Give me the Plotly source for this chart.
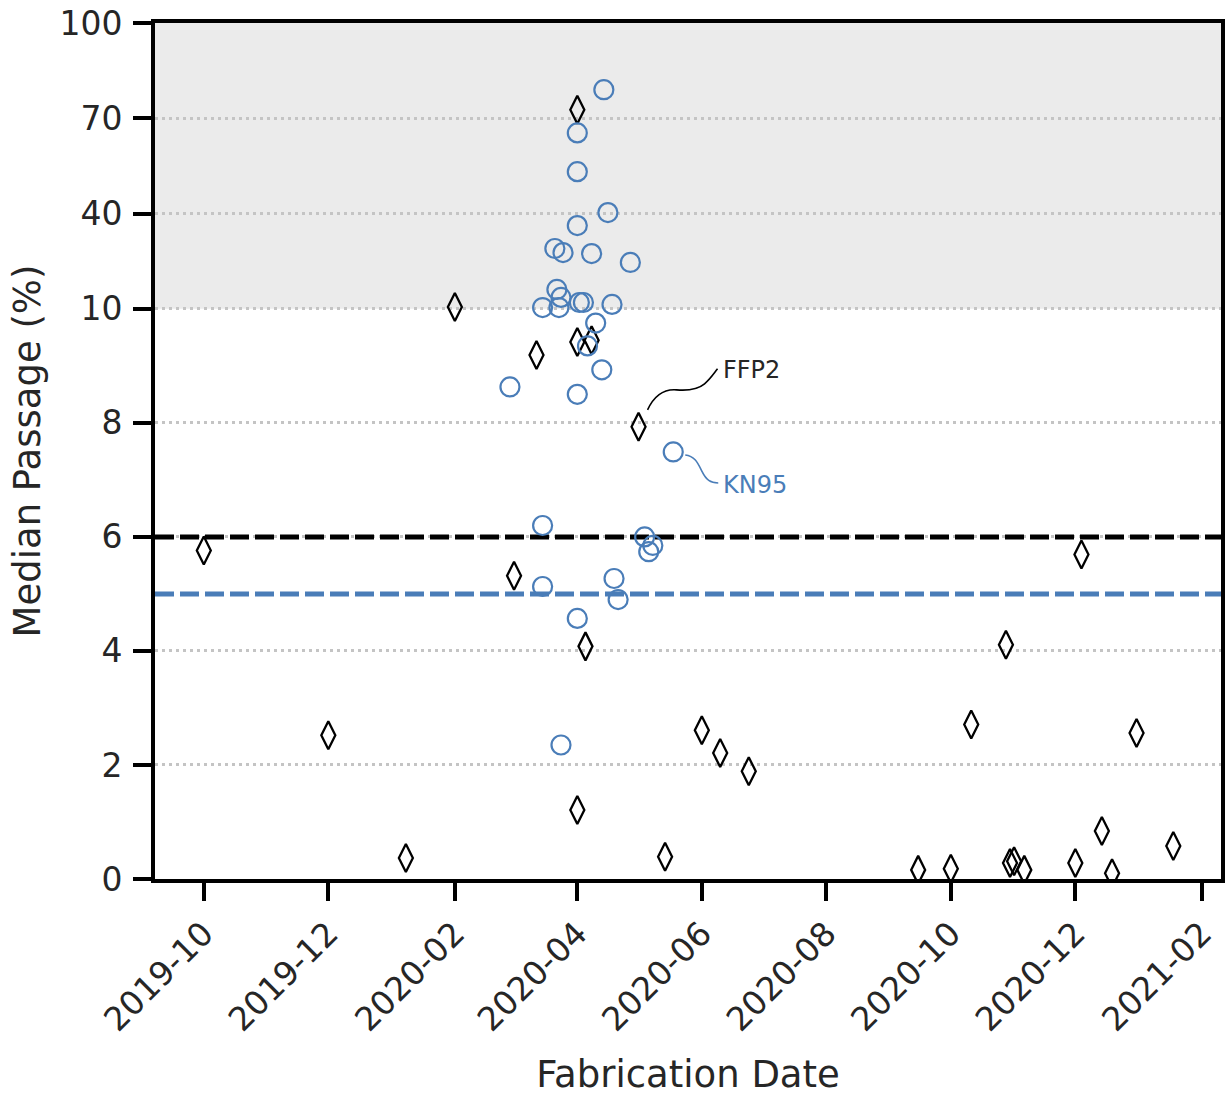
import plotly.graph_objects as go

# Median passage (%) by fabrication date, two respirator classes
ffp2_dates = [
    "2019-10-01", "2019-12-01", "2020-01-08", "2020-02-01", "2020-03-01",
    "2020-03-12", "2020-04-01", "2020-04-01", "2020-04-01", "2020-04-05",
    "2020-04-08", "2020-05-01", "2020-05-14", "2020-06-01", "2020-06-10",
    "2020-06-24", "2020-09-15", "2020-10-01", "2020-10-11", "2020-10-28",
    "2020-10-30", "2020-11-01", "2020-11-06", "2020-12-01", "2020-12-04",
    "2020-12-14", "2020-12-19", "2020-12-31", "2021-01-18",
]
ffp2_passage = [
    5.76, 2.52, 0.37, 10.6, 5.32,
    9.19, 72.7, 9.42, 1.21, 4.08,
    9.45, 7.93, 0.39, 2.61, 2.21,
    1.89, 0.16, 0.18, 2.71, 4.11,
    0.28, 0.31, 0.16, 0.28, 5.69,
    0.84, 0.10, 2.56, 0.58,
]

kn95_dates = [
    "2020-04-14", "2020-04-01", "2020-04-01", "2020-04-16", "2020-04-01",
    "2020-03-21", "2020-03-25", "2020-04-08", "2020-04-27", "2020-03-22",
    "2020-03-24", "2020-04-02", "2020-04-04", "2020-04-18", "2020-03-15",
    "2020-03-23", "2020-04-10", "2020-04-06", "2020-04-13", "2020-02-28",
    "2020-04-01", "2020-03-15", "2020-05-04", "2020-05-08", "2020-05-06",
    "2020-03-15", "2020-04-19", "2020-04-21", "2020-04-01", "2020-05-18",
    "2020-03-24",
]
kn95_passage = [
    79.0, 65.4, 53.2, 40.3, 36.2,
    29.0, 27.7, 27.4, 24.6, 16.1,
    13.6, 12.0, 12.0, 11.4, 10.4,
    10.4, 9.75, 9.35, 8.93, 8.63,
    8.50, 6.20, 6.00, 5.85, 5.74,
    5.13, 5.27, 4.90, 4.57, 7.49,
    2.35,
]

# Pass/fail limits for each standard
ffp2_limit = 6
kn95_limit = 5

ytick_values = [0, 2, 4, 6, 8, 10, 40, 70, 100]
ytick_labels = ["0", "2", "4", "6", "8", "10", "40", "70", "100"]

x_range = ["2019-09-07 02:00", "2021-02-10 09:00"]

# Piecewise axis: linear up to 10 %, compressed above it
BREAK = 10
UPPER_SCALE = 0.0557


def to_axis(v):
    return v if v <= BREAK else BREAK + (v - BREAK) * UPPER_SCALE


BLUE = "#4a7db8"
TEXT = "#262626"
FONT = "DejaVu Sans"

fig = go.Figure()

# Limit lines, drawn first so the markers sit on top
fig.add_trace(go.Scatter(
    x=x_range, y=[to_axis(ffp2_limit)] * 2, mode="lines", hoverinfo="skip",
    line=dict(color="black", width=5, dash="19px,6px"),
))
fig.add_trace(go.Scatter(
    x=x_range, y=[to_axis(kn95_limit)] * 2, mode="lines", hoverinfo="skip",
    line=dict(color=BLUE, width=5, dash="19px,6px"),
))

fig.add_trace(go.Scatter(
    x=ffp2_dates, y=[to_axis(v) for v in ffp2_passage],
    mode="markers", name="FFP2",
    marker=dict(symbol="diamond-tall-open", size=20, color="black",
                line=dict(width=2.3, color="black")),
))
fig.add_trace(go.Scatter(
    x=kn95_dates, y=[to_axis(v) for v in kn95_passage],
    mode="markers", name="KN95",
    marker=dict(symbol="circle-open", size=19, color=BLUE,
                line=dict(width=2.2, color=BLUE)),
))

# Shaded region above the break
fig.add_shape(type="rect", xref="x domain", yref="y",
              x0=0, x1=1, y0=to_axis(BREAK), y1=to_axis(100),
              fillcolor="#ebebeb", line_width=0, layer="below")

# Labelled examples with curly leader lines
i_f = ffp2_dates.index("2020-05-01")
i_k = kn95_dates.index("2020-05-18")
fx, fy = ffp2_dates[i_f], to_axis(ffp2_passage[i_f])
kx, ky = kn95_dates[i_k], to_axis(kn95_passage[i_k])

fig.add_shape(type="path", xref="x", yref="y",
              xsizemode="pixel", ysizemode="pixel", xanchor=fx, yanchor=fy,
              path="M9,17 C16,32 26,38 38,37 C50,36 60,38 66,43 C72,48 75,53 79,58",
              line=dict(color="black", width=1.6))
fig.add_shape(type="path", xref="x", yref="y",
              xsizemode="pixel", ysizemode="pixel", xanchor=kx, yanchor=ky,
              path="M12,-3 C22,-4 25,-12 29,-20 C33,-28 37,-31 45,-31",
              line=dict(color=BLUE, width=1.6))

fig.add_annotation(x=fx, y=fy, text="FFP2", showarrow=False,
                   xanchor="left", yanchor="middle", xshift=82, yshift=57,
                   font=dict(family=FONT, size=24, color=TEXT))
fig.add_annotation(x=kx, y=ky, text="KN95", showarrow=False,
                   xanchor="left", yanchor="middle", xshift=48, yshift=-33,
                   font=dict(family=FONT, size=24, color=BLUE))

fig.update_layout(
    width=1228, height=1096,
    margin=dict(l=155, r=3, t=23, b=215),
    paper_bgcolor="white", plot_bgcolor="white",
    showlegend=False,
    font=dict(family=FONT, color=TEXT),
)

fig.update_xaxes(
    type="date",
    range=x_range,
    tick0="2019-10-01", dtick="M2", tickformat="%Y-%m",
    tickangle=-45,
    tickfont=dict(family=FONT, size=33, color=TEXT),
    ticks="outside", ticklen=18, tickwidth=4, tickcolor="black",
    showline=True, linewidth=4, linecolor="black", mirror=True,
    showgrid=False, zeroline=False,
    title=dict(text="Fabrication Date", font=dict(family=FONT, size=37, color=TEXT),
               standoff=28),
)

fig.update_yaxes(
    range=[0, to_axis(100)],
    tickmode="array",
    tickvals=[to_axis(v) for v in ytick_values],
    ticktext=ytick_labels,
    tickfont=dict(family=FONT, size=33, color=TEXT),
    ticklabelstandoff=4,
    ticks="outside", ticklen=18, tickwidth=4, tickcolor="black",
    showline=True, linewidth=4, linecolor="black", mirror=True,
    showgrid=True, gridcolor="#c4c4c4", gridwidth=3, griddash="3px,4px",
    zeroline=False,
    title=dict(text="Median Passage (%)", font=dict(family=FONT, size=37, color=TEXT),
               standoff=8),
)

fig.write_html("out.html")
